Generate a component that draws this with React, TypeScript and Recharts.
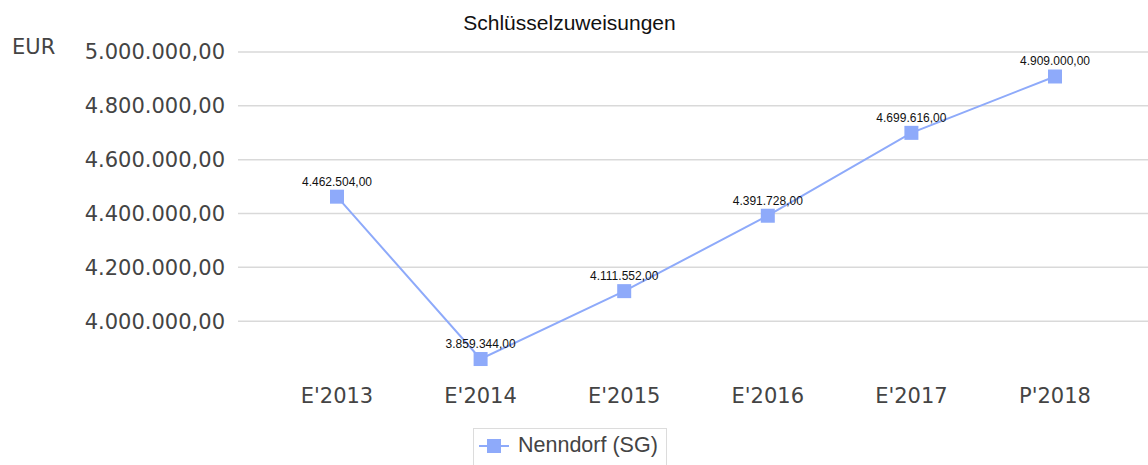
import React from "react";
import {
  LineChart,
  Line,
  XAxis,
  YAxis,
  ReferenceLine,
  LabelList,
} from "recharts";

const CATEGORIES = ["E'2013", "E'2014", "E'2015", "E'2016", "E'2017", "P'2018"];
const NENNDORF = [4462504, 3859344, 4111552, 4391728, 4699616, 4909000];
const Y_TICKS = [4000000, 4200000, 4400000, 4600000, 4800000, 5000000];

const LINE_COLOR = "#8eaafa";
const TICK_FONT = "'DejaVu Sans', Verdana, sans-serif";
const ARIAL = "'Liberation Sans', Arial, sans-serif";

const data = CATEGORIES.map((name, i) => ({ name, value: NENNDORF[i] }));

// 4462504 -> "4.462.504,00"
function fmtDe(v: number) {
  const [int, dec] = v.toFixed(2).split(".");
  return int.replace(/\B(?=(\d{3})+(?!\d))/g, ".") + "," + dec;
}

function SquareDot(props: any) {
  const { cx, cy, index } = props;
  if (cx == null || cy == null) return null;
  return <rect key={`dot-${index}`} x={cx - 7} y={cy - 7} width={14} height={14} fill={LINE_COLOR} />;
}

export default function App() {
  return (
    <div style={{ position: "absolute", left: 0, top: 0, width: 1148, height: 465, background: "#fff", overflow: "hidden" }}>
      <div
        style={{
          position: "absolute",
          left: 0,
          width: 1139,
          top: 11,
          textAlign: "center",
          fontFamily: ARIAL,
          fontSize: 21,
          color: "#111",
        }}
      >
        Schlüsselzuweisungen
      </div>
      <div style={{ position: "absolute", left: 12, top: 35, fontFamily: TICK_FONT, fontSize: 21, color: "#444" }}>
        EUR
      </div>
      <LineChart width={1148} height={465} data={data} margin={{ top: 52, right: 0, bottom: 50, left: 0 }}>
        {Y_TICKS.map((t) => (
          <ReferenceLine key={t} y={t} stroke="#d9d9d9" strokeWidth={1.5} />
        ))}
        <XAxis
          dataKey="name"
          axisLine={false}
          tickLine={false}
          padding={{ left: 99, right: 93 }}
          tickMargin={7}
          tick={{ fill: "#444", fontSize: 21, fontFamily: TICK_FONT }}
          height={40}
        />
        <YAxis
          width={238}
          domain={[3800000, 5000000]}
          ticks={Y_TICKS}
          axisLine={false}
          tickLine={false}
          tickMargin={7}
          tickFormatter={fmtDe}
          tick={{ fill: "#444", fontSize: 21, fontFamily: TICK_FONT }}
        />
        <Line
          type="linear"
          dataKey="value"
          stroke={LINE_COLOR}
          strokeWidth={2}
          dot={<SquareDot />}
          isAnimationActive={false}
        >
          <LabelList
            dataKey="value"
            position="top"
            offset={11}
            formatter={(v: any) => fmtDe(Number(v))}
            style={{ fill: "#111", fontSize: 12, fontFamily: ARIAL }}
          />
        </Line>
      </LineChart>
      <div
        style={{
          position: "absolute",
          left: 473,
          top: 428,
          display: "flex",
          alignItems: "center",
          border: "1px solid #dcdcdc",
          padding: "4px 8px 14px 5px",
          fontFamily: ARIAL,
          fontSize: 21.5,
          color: "#444",
          background: "#fff",
        }}
      >
        <svg width={30} height={16} style={{ marginRight: 9 }}>
          <line x1={0} y1={8} x2={30} y2={8} stroke={LINE_COLOR} strokeWidth={2} />
          <rect x={8} y={1} width={14} height={14} fill={LINE_COLOR} />
        </svg>
        Nenndorf (SG)
      </div>
    </div>
  );
}
